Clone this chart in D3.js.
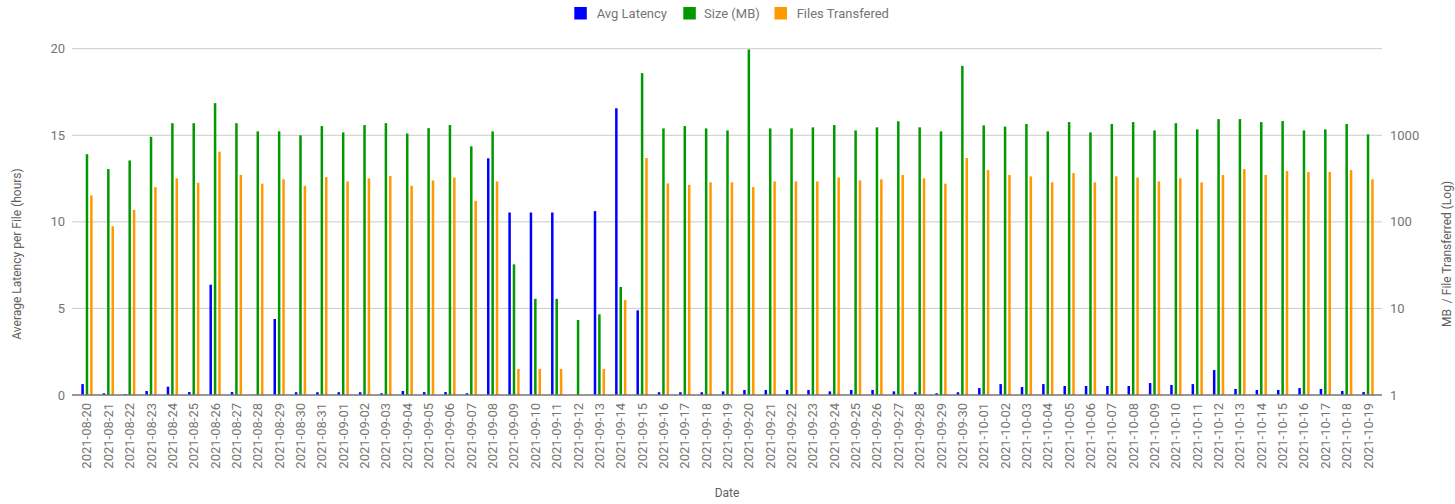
<!DOCTYPE html>
<html><head><meta charset="utf-8">
<script src="https://cdn.jsdelivr.net/npm/d3@7"></script>
<style>body{margin:0;background:#fff;}svg{display:block;font-family:Roboto,Arial,sans-serif;}</style>
</head><body><svg id="c" width="1455" height="504"></svg>
<script>
const dates = ["2021-08-20","2021-08-21","2021-08-22","2021-08-23","2021-08-24","2021-08-25","2021-08-26","2021-08-27","2021-08-28","2021-08-29","2021-08-30","2021-08-31","2021-09-01","2021-09-02","2021-09-03","2021-09-04","2021-09-05","2021-09-06","2021-09-07","2021-09-08","2021-09-09","2021-09-10","2021-09-11","2021-09-12","2021-09-13","2021-09-14","2021-09-15","2021-09-16","2021-09-17","2021-09-18","2021-09-19","2021-09-20","2021-09-21","2021-09-22","2021-09-23","2021-09-24","2021-09-25","2021-09-26","2021-09-27","2021-09-28","2021-09-29","2021-09-30","2021-10-01","2021-10-02","2021-10-03","2021-10-04","2021-10-05","2021-10-06","2021-10-07","2021-10-08","2021-10-09","2021-10-10","2021-10-11","2021-10-12","2021-10-13","2021-10-14","2021-10-15","2021-10-16","2021-10-17","2021-10-18","2021-10-19"];
const avgLatency = [0.63,0.1,0.05,0.23,0.48,0.17,6.37,0.17,0.02,4.39,0.16,0.16,0.16,0.16,0.1,0.23,0.17,0.17,0.1,13.67,10.54,10.54,10.54,0,10.62,16.56,4.89,0.16,0.16,0.16,0.21,0.29,0.29,0.29,0.29,0.21,0.29,0.29,0.21,0.16,0.1,0.16,0.4,0.63,0.46,0.63,0.52,0.52,0.52,0.52,0.69,0.58,0.63,1.44,0.35,0.29,0.29,0.4,0.35,0.23,0.17];
const sizeMB = [605,407,512,961,1380,1380,2350,1380,1110,1110,1000,1277,1080,1312,1380,1050,1210,1312,745,1110,32.3,12.9,12.9,7.35,8.55,17.7,5220,1200,1277,1200,1138,9800,1200,1200,1235,1312,1138,1235,1450,1235,1110,6330,1300,1260,1350,1110,1420,1080,1350,1420,1138,1380,1170,1538,1538,1420,1460,1138,1170,1350,1025];
const filesTransfered = [202,89,137,252,318,283,646,348,276,310,261,329,293,318,338,261,301,325,175,293,2,2,2,1,2,12.5,546,278,268,286,286,252,293,293,293,325,301,310,348,318,276,546,396,348,335,286,366,286,335,325,293,318,286,348,407,348,386,376,376,396,310];
const seriesNames = ["Avg Latency","Size (MB)","Files Transfered"];
const colors = ["#0000ff","#009900","#ff9900"];
const leftTicks = [0,5,10,15,20];
const rightTicks = [1,10,100,1000];

const svg = d3.select("#c");
const L = 72, R = 1382, T = 48.7, B = 395;
const x = d3.scaleBand().domain(dates).range([76.3, 1378.7]).paddingInner(0).paddingOuter(0);
const yL = d3.scaleLinear().domain([0,20]).range([B,T]);
const yR = d3.scaleLog().domain([1,10000]).range([B,T]);
const bw = x.bandwidth();
const sub = d3.scaleBand().domain([0,1,2]).range([-bw*0.309, bw*0.309]);
const barW = 2.5;

// gridlines
svg.append("g").selectAll("line").data(leftTicks.filter(d=>d>0)).join("line")
  .attr("x1",L).attr("x2",R).attr("y1",d=>yL(d)).attr("y2",d=>yL(d))
  .attr("stroke","#cccccc").attr("stroke-width",1);

// left tick labels
svg.append("g").selectAll("text").data(leftTicks).join("text")
  .attr("x",65).attr("y",d=>yL(d)+4.5).attr("text-anchor","end")
  .attr("font-size",13).attr("fill","#757575").text(d=>d);
// right tick labels
svg.append("g").selectAll("text").data(rightTicks).join("text")
  .attr("x",1390).attr("y",d=>yR(d)+4.5).attr("text-anchor","start")
  .attr("font-size",13).attr("fill","#757575").text(d=>d);

const groups = svg.append("g").selectAll("g").data(dates).join("g")
  .attr("transform",d=>`translate(${x(d)+bw/2},0)`);
groups.each(function(d,i){
  const g = d3.select(this);
  const v0 = avgLatency[i];
  if (v0 > 0) g.append("rect").attr("x",sub(0)+sub.bandwidth()/2-barW/2).attr("width",barW)
     .attr("y",yL(v0)).attr("height",B-yL(v0)).attr("fill",colors[0]);
  const v1 = sizeMB[i];
  if (v1 > 1) g.append("rect").attr("x",sub(1)+sub.bandwidth()/2-barW/2).attr("width",barW)
     .attr("y",yR(v1)).attr("height",B-yR(v1)).attr("fill",colors[1]);
  const v2 = filesTransfered[i];
  if (v2 > 1) g.append("rect").attr("x",sub(2)+sub.bandwidth()/2-barW/2).attr("width",barW)
     .attr("y",yR(v2)).attr("height",B-yR(v2)).attr("fill",colors[2]);
});

// baseline
svg.append("line").attr("x1",L).attr("x2",R).attr("y1",B).attr("y2",B)
  .attr("stroke","#757575").attr("stroke-width",1.5);

// x labels
svg.append("g").selectAll("text").data(dates).join("text")
  .attr("transform",d=>`translate(${x(d)+bw/2+4.5},403) rotate(-90)`)
  .attr("text-anchor","end").attr("font-size",13).attr("fill","#757575").text(d=>d);

// axis titles
svg.append("text").attr("transform","translate(21,254) rotate(-90)").attr("text-anchor","middle")
  .attr("font-size",12).attr("fill","#616161").text("Average Latency per File (hours)");
svg.append("text").attr("transform","translate(1451,254) rotate(-90)").attr("text-anchor","middle")
  .attr("font-size",12).attr("fill","#616161").style("white-space","pre").text("MB  / File Transferred (Log)");
svg.append("text").attr("x",727).attr("y",497).attr("text-anchor","middle")
  .attr("font-size",12).attr("fill","#616161").text("Date");

// legend
const legX = [574.3, 683.3, 774.5];
const legTextX = [596.7, 704, 796.7];
const leg = svg.append("g").selectAll("g").data(seriesNames).join("g");
leg.append("rect").attr("x",(d,i)=>legX[i]).attr("y",7).attr("width",12.5).attr("height",12.5).attr("fill",(d,i)=>colors[i]);
leg.append("text").attr("x",(d,i)=>legTextX[i]).attr("y",18).attr("font-size",13).attr("fill","#757575").text(d=>d);
</script></body></html>
